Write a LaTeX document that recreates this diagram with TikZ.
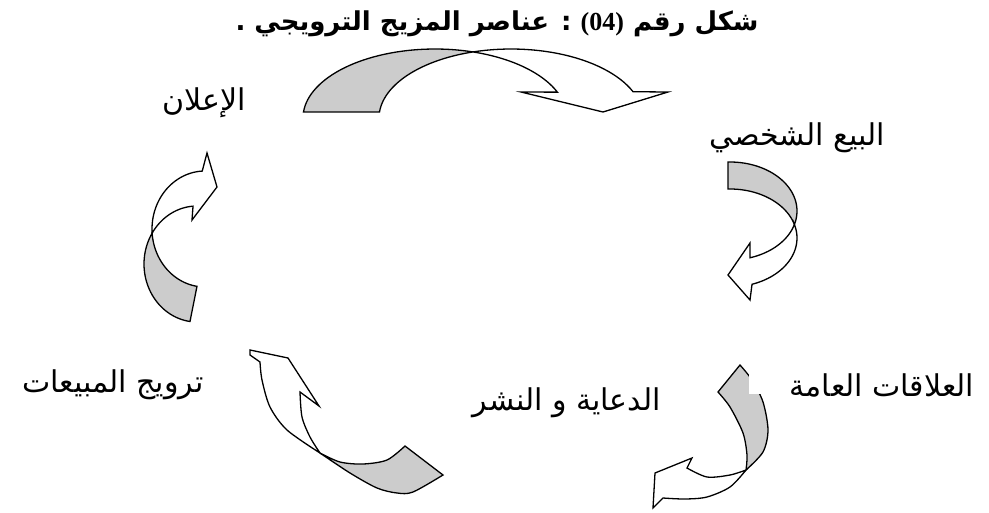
\documentclass[tikz,border=0pt]{standalone}
\usepackage{fontspec}
\TeXXeTstate=1
\newfontfamily\arabicfont[Script=Arabic]{DejaVu Sans}
\newfontfamily\digitfont{Liberation Serif}
\definecolor{arrowgray}{RGB}{204,204,204}
\tikzset{
  graylobe/.style={fill=arrowgray, draw=black, line width=1.3pt},
  whitelobe/.style={fill=white, draw=black, line width=1.3pt},
  lbl/.style={font=\arabicfont\fontsize{30}{34}\selectfont, inner sep=0pt},
  ttl/.style={font=\arabicfont\bfseries\fontsize{26}{30}\selectfont, inner sep=0pt}
}
\begin{document}
\begin{tikzpicture}[x=1pt,y=-1pt]
\useasboundingbox (0,0) rectangle (989,512);
\fill[white] (0,0) rectangle (989,512);

% title
\node[ttl] (title) at (497,24) {\beginR شكل رقم \beginL{\digitfont\bfseries (04)}\endL{} : عناصر المزيج الترويجي .\endR};

% labels
\node[lbl] (ilan) at (204,103) {\beginR الإعلان\endR};
\node[lbl] (bay) at (797,138) {\beginR البيع الشخصي\endR};
\node[lbl] (alaqat) at (882,385) {\beginR العلاقات العامة\endR};
\node[lbl] (diaya) at (567,403) {\beginR الدعاية و النشر\endR};
\node[lbl] (tarwij) at (113,385) {\beginR ترويج المبيعات\endR};

% top arrow
\path[graylobe] plot[domain=175:73.3,samples=40,variable=\t] ({435+132*cos(\t)},{118-69*sin(\t)})
  -- plot[domain=106.7:175,samples=30,variable=\t] ({511+132*cos(\t)},{118-69*sin(\t)}) -- cycle;
\path[whitelobe] plot[domain=73.3:22,samples=30,variable=\t] ({435+132*cos(\t)},{118-69*sin(\t)})
  -- (521,92) -- (603,112) -- (668,92)
  -- plot[domain=22.4:106.7,samples=30,variable=\t] ({511+132*cos(\t)},{118-69*sin(\t)}) -- cycle;

% right arrow
\path[graylobe] plot[domain=91.7:-16,samples=40,variable=\t] ({730+67*cos(\t)},{211-49*sin(\t)})
  -- plot[domain=16:91.7,samples=30,variable=\t] ({730+67*cos(\t)},{238-49*sin(\t)}) -- cycle;
\path[whitelobe] plot[domain=-16:-72.6,samples=30,variable=\t] ({730+67*cos(\t)},{211-49*sin(\t)})
  -- (750,243) -- (728,275) -- (750,300)
  -- plot[domain=-70.8:16,samples=30,variable=\t] ({730+67*cos(\t)},{238-49*sin(\t)}) -- cycle;

% left arrow
\path[graylobe] plot[domain=262.4:147.7,samples=40,variable=\t] ({197+53*cos(\t)},{264-58*sin(\t)})
  -- plot[domain=183.95:261.3,samples=30,variable=\t] ({205+53*cos(\t)},{229-58*sin(\t)}) -- cycle;
\path[whitelobe] plot[domain=147.7:94.3,samples=30,variable=\t] ({197+53*cos(\t)},{264-58*sin(\t)})
  -- (192,220) -- (217,187) -- (207,153)
  -- plot[domain=93:183.95,samples=30,variable=\t] ({205+53*cos(\t)},{229-58*sin(\t)}) -- cycle;

% bottom-left arrow
\path[whitelobe] plot[smooth] coordinates {(260,362) (262,380) (270,407) (287,430) (320,453)}
  -- plot[smooth] coordinates {(320,453) (310,437) (302,417) (300,392)}
  -- (319,406) -- (288,358) -- (250,350) -- (250,355) -- cycle;
\path[graylobe] plot[smooth] coordinates {(320,453) (350,473) (377,488) (397,493) (413,492) (443,475)}
  -- (405,446)
  -- plot[smooth] coordinates {(405,446) (387,460) (363,464) (340,462) (320,453)} -- cycle;

% bottom-right arrow
\path[graylobe] plot[smooth] coordinates {(740,365) (752,380) (763,402) (768,430) (763,452) (746,470)}
  -- plot[smooth] coordinates {(746,470) (747,455) (743,433) (730,407) (718,392)} -- cycle;
\path[whitelobe] plot[smooth] coordinates {(746,470) (730,487) (707,497) (685,499) (663,498)}
  -- (653,508) -- (655,473) -- (692,458) -- (687,468)
  -- plot[smooth] coordinates {(687,468) (707,477) (730,475) (746,470)} -- cycle;
\fill[white] (748.5,358) rectangle (772,393.5);
\end{tikzpicture}
\end{document}
